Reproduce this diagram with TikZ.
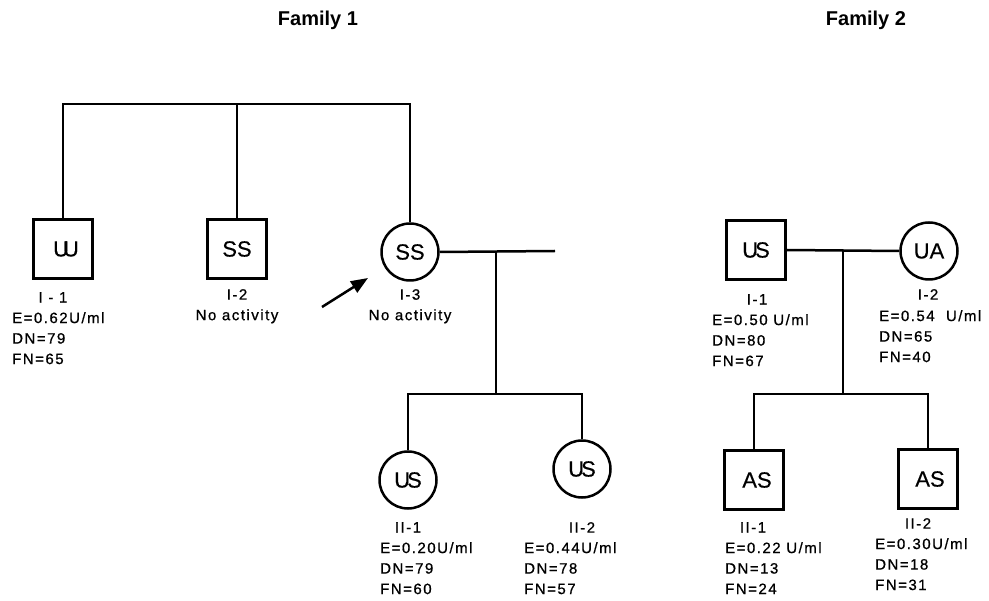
\documentclass[tikz,border=0pt]{standalone}
\usepackage{fontspec}
\setmainfont{Liberation Sans}
\newfontfamily\pedfont[LetterSpace=10,FakeBold=0.8]{Liberation Sans}
\newfontfamily\symfont[FakeBold=0.4]{Liberation Sans}
\usetikzlibrary{arrows.meta}

\tikzset{
    ped line/.style={
      draw=black,
      line width=2.5pt
    },
    ped box/.style={
      rectangle,
      draw=black,
      line width=2.5pt,
      minimum size=59pt,
      inner sep=0pt,
      font=\symfont\fontsize{22}{24}\selectfont
    },
    ped circle/.style={
      circle,
      draw=black,
      line width=2.5pt,
      minimum size=57pt,
      inner sep=0pt,
      font=\symfont\fontsize{22}{24}\selectfont
    },
    ped id/.style={
      anchor=north,
      inner sep=0pt,
      align=center,
      font=\pedfont\fontsize{15}{20.5}\selectfont
    },
    ped data/.style={
      anchor=north west,
      inner sep=0pt,
      align=left,
      font=\pedfont\fontsize{15}{20.5}\selectfont
    },
    ped title/.style={
      anchor=base,
      inner sep=0pt,
      font=\bfseries\fontsize{20}{24}\selectfont
    }
  }

\begin{document}
\begin{tikzpicture}[x=1pt,y=-1pt]
      \useasboundingbox (0,0) rectangle (989,601);

      % Family 1
      \node[ped title] (title1) at (318,26) {Family 1};

      \node[ped box] (f1i1) at (63,249) {\hspace{6pt}U\kern-6pt U};
      \node[ped box] (f1i2) at (237,249) {SS};
      \node[ped circle] (f1i3) at (410,252) {SS};
      \node[ped circle] (f1ii1) at (408,480) {U\kern-3pt S};
      \node[ped circle] (f1ii2) at (582,469) {U\kern-3pt S};

      \coordinate (f1sib) at (237,104);
      \coordinate (f1mate) at (555,251);
      \coordinate (f1drop) at (496,251);
      \coordinate (f1kids) at (496,394);

      \draw[ped line] (f1i1.north) |- (f1sib) -| (f1i3.north);
      \draw[ped line] (f1sib) -- (f1i2.north);
      \draw[ped line] (f1i3.east) -- (f1mate);
      \draw[ped line] (f1drop) -- (f1kids);
      \draw[ped line] (f1ii1.north) |- (f1kids) -| (f1ii2.north);

      % Pfeil auf I-3
      \coordinate (arrowtail) at (322,307);
      \coordinate (arrowtip) at (368,278);
      \draw[ped line, -{Triangle[length=17pt,width=13pt]}] (arrowtail) -- (arrowtip);

      \node[ped id] (f1i1id) at (53,292) {I - 1};
      \node[ped data] (f1i1data) at (12,312) {E=0.62U/ml\\DN=79\\FN=65};
      \node[ped id] (f1i2id) at (237,289) {I-2\\No activity};
      \node[ped id] (f1i3id) at (410,289) {I-3\\No activity};
      \node[ped id] (f1ii1id) at (408,522) {II-1};
      \node[ped data] (f1ii1data) at (380,542) {E=0.20U/ml\\DN=79\\FN=60};
      \node[ped id] (f1ii2id) at (582,522) {II-2};
      \node[ped data] (f1ii2data) at (524,542) {E=0.44U/ml\\DN=78\\FN=57};

      % Family 2
      \node[ped title] (title2) at (866,26) {Family 2};

      \node[ped box] (f2i1) at (756,250) {U\kern-3pt S};
      \node[ped circle] (f2i2) at (929,251) {UA};
      \node[ped box] (f2ii1) at (754,480) {\hspace{6pt}AS};
      \node[ped box] (f2ii2) at (928,479) {\hspace{4pt}AS};

      \coordinate (f2drop) at (843,251);
      \coordinate (f2kids) at (843,394);

      \draw[ped line] (f2i1.east) -- (f2i2.west);
      \draw[ped line] (f2drop) -- (f2kids);
      \draw[ped line] (f2ii1.north) |- (f2kids) -| (f2ii2.north);

      \node[ped id] (f2i1id) at (757,294) {I-1};
      \node[ped data] (f2i1data) at (712,314) {E=0.50 U/ml\\DN=80\\FN=67};
      \node[ped id] (f2i2id) at (928,289) {I-2};
      \node[ped data] (f2i2data) at (879,310) {E=0.54\ \ U/ml\\DN=65\\FN=40};
      \node[ped id] (f2ii1id) at (753,522) {II-1};
      \node[ped data] (f2ii1data) at (725,542) {E=0.22 U/ml\\DN=13\\FN=24};
      \node[ped id] (f2ii2id) at (918,518) {II-2};
      \node[ped data] (f2ii2data) at (875,538) {E=0.30U/ml\\DN=18\\FN=31};
    \end{tikzpicture}
\end{document}
